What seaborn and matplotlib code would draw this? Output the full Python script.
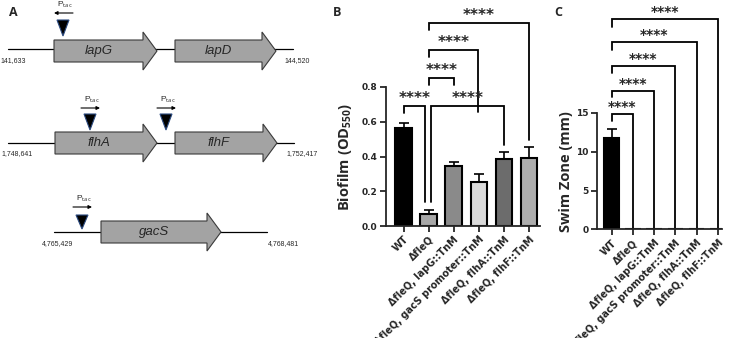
import numpy as np
import pandas as pd
import matplotlib
matplotlib.use("Agg")
import matplotlib.pyplot as plt
from matplotlib.patches import Polygon
import seaborn as sns

sns.set_theme(style="ticks")
plt.rcParams['font.family'] = ['DejaVu Sans']
plt.rcParams['mathtext.fontset'] = 'custom'
plt.rcParams['mathtext.rm'] = 'Open Sans'
plt.rcParams['mathtext.bf'] = 'Open Sans:bold'

# strains (same order in B and C)
strains = ["WT", "ΔfleQ", "ΔfleQ, lapG::TnM", "ΔfleQ, gacS promoter::TnM",
           "ΔfleQ, flhA::TnM", "ΔfleQ, flhF::TnM"]

# panel B - biofilm OD550
biofilm_mean = [0.562, 0.069, 0.347, 0.251, 0.384, 0.390]
biofilm_sd = [0.033, 0.023, 0.020, 0.047, 0.040, 0.066]
bar_colors = ["#000000", "#a8a8a8", "#8a8a8a", "#dadada", "#6c6c6c", "#adadad"]

# panel C - swim zone (mm)
swim_mean = [11.8, 0, 0, 0, 0, 0]
swim_sd = [1.2, 0, 0, 0, 0, 0]

# panel A - gene maps
row_genes = [["lapG", "lapD"], ["flhA", "flhF"], ["gacS"]]
row_left = ["141,633", "1,748,641", "4,765,429"]
row_right = ["144,520", "1,752,417", "4,768,481"]
stars = "****"

fig = plt.figure(figsize=(7.32, 3.38), dpi=100)

# ---------------- panel A (drawn in pixel space) ----------------
axA = fig.add_axes([0, 0, 1, 1])
axA.set_xlim(0, 732)
axA.set_ylim(338, 0)
axA.axis("off")

def gene(ax, x0, x1, y, name):
    hl = 14
    bh = 11
    hh = 19
    pts = [(x0, y - bh), (x1 - hl, y - bh), (x1 - hl, y - hh), (x1, y),
           (x1 - hl, y + hh), (x1 - hl, y + bh), (x0, y + bh)]
    ax.add_patch(Polygon(pts, closed=True, facecolor="#a3a3a3",
                         edgecolor="#3a3a3a", lw=0.8, zorder=2))
    ax.text((x0 + x1 - hl) / 2, y, name, ha="center", va="center",
            fontsize=9.5, style="italic", family="Liberation Sans", zorder=3)

def insertion(ax, x, ytop, ybot, ya, direction):
    ax.add_patch(Polygon([(x - 6, ytop), (x + 6, ytop), (x, ybot)], closed=True,
                         facecolor="black", edgecolor="#2b4a80", lw=0.8, zorder=3))
    if direction > 0:
        ax.annotate("", xy=(x + 10, ya), xytext=(x - 9, ya),
                    arrowprops=dict(arrowstyle="-|>", lw=0.8, color="black",
                                    mutation_scale=5, shrinkA=0, shrinkB=0))
    else:
        ax.annotate("", xy=(x - 9, ya), xytext=(x + 10, ya),
                    arrowprops=dict(arrowstyle="-|>", lw=0.8, color="black",
                                    mutation_scale=5, shrinkA=0, shrinkB=0))
    ax.text(x - 6, ya - 3, "P$_{\\rm tac}$", fontsize=6, ha="left", va="bottom",
            family="Liberation Sans")

# row 1
axA.plot([8, 293], [49, 49], color="black", lw=0.9, zorder=1)
gene(axA, 54, 157, 51, row_genes[0][0])
gene(axA, 175, 276, 51, row_genes[0][1])
insertion(axA, 63, 20, 36, 13, -1)
# row 2
axA.plot([8, 294], [143, 143], color="black", lw=0.9, zorder=1)
gene(axA, 55, 157, 143, row_genes[1][0])
gene(axA, 175, 277, 143, row_genes[1][1])
insertion(axA, 90, 114, 130, 108, 1)
insertion(axA, 166, 114, 130, 108, 1)
# row 3
axA.plot([54, 267], [232, 232], color="black", lw=0.9, zorder=1)
gene(axA, 101, 221, 232, row_genes[2][0])
insertion(axA, 82, 215, 229, 207, 1)

for (xl, xr, y), l, r in zip([(0, 284, 61), (1, 286, 154), (42, 268, 244)], row_left, row_right):
    axA.text(xl, y, l, fontsize=5, ha="left", va="center", family="Liberation Sans")
    axA.text(xr, y, r, fontsize=5, ha="left", va="center", family="Liberation Sans")

for lab, x in zip(["A", "B", "C"], [13, 337, 558]):
    fig.text(x / 732, 1 - 12 / 338, lab, fontsize=9, fontweight="bold",
             family="Open Sans", ha="center", va="center")

# ---------------- common styling ----------------
def style_axis(ax):
    sns.despine(ax=ax)
    for s in ["left", "bottom"]:
        ax.spines[s].set_linewidth(1.3)
    ax.tick_params(width=1.3, length=4, labelsize=6.5, pad=2)
    for t in ax.get_yticklabels():
        t.set_fontweight("bold")
    ax.set_xticks(range(len(strains)))
    ax.set_xticklabels(strains, rotation=45, ha="right", rotation_mode="anchor",
                       fontsize=7, fontweight="bold")
    ax.set_xlabel("")

def bracket(ax, x1, x2, y, y1, y2, size=11, lw=1.3):
    ax.plot([x1, x1, x2, x2], [y1, y, y, y2], color="black", lw=lw,
            clip_on=False, solid_joinstyle="miter")
    ax.text((x1 + x2) / 2, y, stars, ha="center", va="bottom", fontsize=size,
            fontweight="bold", clip_on=False, linespacing=0.8)

# ---------------- panel B ----------------
dfB = pd.DataFrame({"strain": strains, "od": biofilm_mean})
axB = fig.add_axes([386 / 732, (338 - 226) / 338, 154 / 732, 139 / 338])
sns.barplot(data=dfB, x="strain", y="od", hue="strain", palette=bar_colors,
            legend=False, edgecolor="black", linewidth=1.5, width=0.66,
            errorbar=None, ax=axB)
axB.errorbar(range(len(strains)), biofilm_mean,
             yerr=[np.zeros(len(strains)), biofilm_sd], fmt="none",
             ecolor="black", elinewidth=1.2, capsize=3.5, capthick=1.2, zorder=3)
axB.set_ylim(0, 0.8)
axB.set_yticks([0.0, 0.2, 0.4, 0.6, 0.8])
axB.set_xlim(-0.7, 5.44)
axB.set_ylabel("Biofilm (OD$_{\\mathbf{550}}$)", fontsize=10.5,
               fontweight="bold", family="Open Sans")
axB.yaxis.set_label_coords(-0.21, 0.5)
style_axis(axB)

bracket(axB, 0, 0.85, 0.69, 0.65, 0.138)
bracket(axB, 1.0, 2.0, 0.852, 0.81, 0.81)
bracket(axB, 1.0, 2.97, 1.013, 0.97, 0.656)
bracket(axB, 1.0, 5.0, 1.168, 1.128, 0.495)
bracket(axB, 1.1, 4.0, 0.69, 0.138, 0.466)

# ---------------- panel C ----------------
dfC = pd.DataFrame({"strain": strains, "swim": swim_mean})
axC = fig.add_axes([597 / 732, (338 - 229.3) / 338, 125 / 732, 116.3 / 338])
sns.barplot(data=dfC, x="strain", y="swim", hue="strain", palette=bar_colors,
            legend=False, edgecolor="black", linewidth=1.5, width=0.72,
            errorbar=None, ax=axC)
axC.errorbar([0], swim_mean[:1], yerr=[[0], swim_sd[:1]], fmt="none",
             ecolor="black", elinewidth=1.2, capsize=3.5, capthick=1.2, zorder=3)
axC.set_ylim(0, 15)
axC.set_yticks([0, 5, 10, 15])
axC.set_xlim(-0.69, 5.2)
axC.set_ylabel("Swim Zone (mm)", fontsize=10.5, fontweight="bold", family="Open Sans")
axC.yaxis.set_label_coords(-0.19, 0.5)
style_axis(axC)

for xi, yb, yl in zip([1, 2, 3, 4, 5], [14.83, 17.9, 21.0, 24.1, 27.1],
                      [14.0, 17.1, 20.1, 23.1, 26.1]):
    bracket(axC, 0, xi, yb, yl, 0, size=10)

fig.savefig("out.png", dpi=100)
